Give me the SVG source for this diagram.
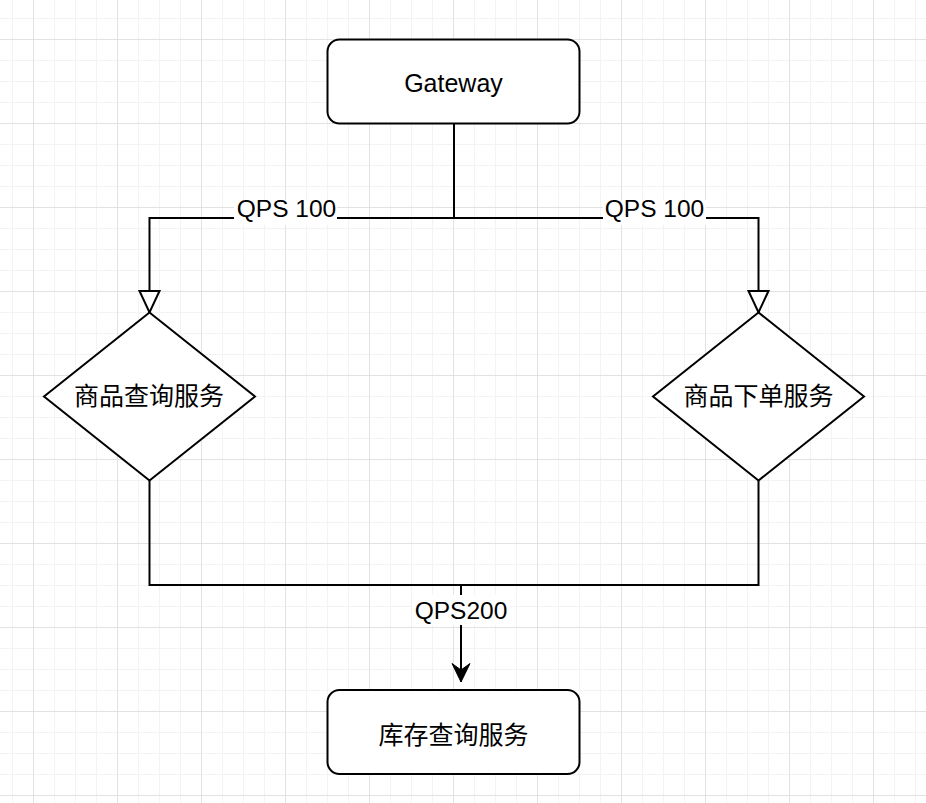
<svg xmlns="http://www.w3.org/2000/svg" width="926" height="803" viewBox="0 0 926 803">
  <style>
    .node { fill: #ffffff; stroke: #000000; stroke-width: 2; }
    .edge { fill: none; stroke: #000000; stroke-width: 2; }
    .txt { font-family: "Liberation Sans", "Noto Sans CJK SC", sans-serif; font-size: 25px; fill: #000000; text-anchor: middle; }
    .lbl { font-family: "Liberation Sans", "Noto Sans CJK SC", sans-serif; font-size: 24.5px; fill: #000000; text-anchor: middle; }
    .lblbg { fill: #ffffff; stroke: none; }
  </style>
  <defs>
    <pattern id="grid" patternUnits="userSpaceOnUse" x="12" y="18" width="84" height="84">
      <path d="M0.5,0 V84 M42.5,0 V84 M63.5,0 V84 M0,0.5 H84 M0,42.5 H84 M0,63.5 H84" fill="none" stroke="#f3f3f3" stroke-width="1"/>
      <path d="M21.5,0 V84 M0,21.5 H84" fill="none" stroke="#e2e2e2" stroke-width="1"/>
    </pattern>
    <marker id="openBlock" markerUnits="userSpaceOnUse" markerWidth="26" markerHeight="26" refX="21.5" refY="10" orient="auto" overflow="visible">
      <path d="M0,0 L21.5,10 L0,20 Z" fill="#ffffff" stroke="#000000" stroke-width="2" stroke-linejoin="miter"/>
    </marker>
    <marker id="classic" markerUnits="userSpaceOnUse" markerWidth="22" markerHeight="22" refX="18.5" refY="9" orient="auto" overflow="visible">
      <path d="M0,0 L18.5,9 L0,18 L6.5,9 Z" fill="#000000" stroke="#000000" stroke-width="1"/>
    </marker>
  </defs>
  <rect x="0" y="0" width="926" height="803" fill="#ffffff"/>
  <rect x="0" y="0" width="926" height="803" fill="url(#grid)"/>

  <g id="connectors">
    <path class="edge" d="M454,123.5 V218 H149.5 V312.5" marker-end="url(#openBlock)"/>
    <path class="edge" d="M454,218 H758.5 V312.5" marker-end="url(#openBlock)"/>
    <path class="edge" d="M149.5,480.5 V585 H758.5 V480.5"/>
    <path class="edge" d="M461,585 V682" marker-end="url(#classic)"/>
    <rect class="lblbg" x="234" y="200" width="103" height="25"/>
    <text class="lbl" x="286.5" y="217">QPS 100</text>
    <rect class="lblbg" x="603" y="200" width="103" height="25"/>
    <text class="lbl" x="654.5" y="217">QPS 100</text>
    <rect class="lblbg" x="412" y="595" width="98" height="30"/>
    <text class="lbl" x="461" y="618.5">QPS200</text>
  </g>

  <g id="gateway">
    <rect class="node" x="327.5" y="39.5" width="252" height="84" rx="12" ry="12"/>
    <text class="txt" x="453.5" y="92.3">Gateway</text>
  </g>

  <g id="product-query">
    <polygon class="node" points="149.5,312.5 255,396.5 149.5,480.5 44,396.5"/>
    <text class="txt" x="149" y="404.5">商品查询服务</text>
  </g>

  <g id="product-order">
    <polygon class="node" points="758.5,312.5 864,396.5 758.5,480.5 653,396.5"/>
    <text class="txt" x="758.5" y="404.5">商品下单服务</text>
  </g>

  <g id="inventory-query">
    <rect class="node" x="327.5" y="690" width="252" height="84" rx="12" ry="12"/>
    <text class="txt" x="453.5" y="744">库存查询服务</text>
  </g>
</svg>
